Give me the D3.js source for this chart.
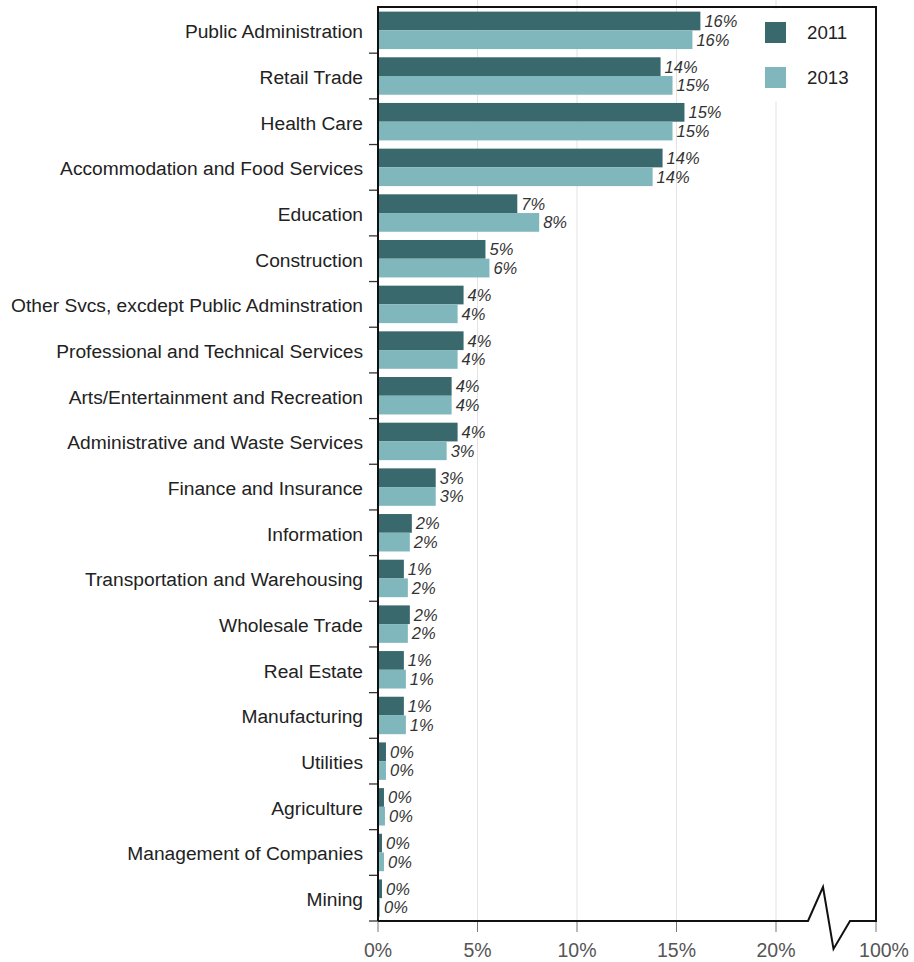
<!DOCTYPE html>
<html><head><meta charset="utf-8">
<script src="https://cdn.jsdelivr.net/npm/d3@7"></script>
<style>body{margin:0;background:#fff;}svg{display:block;font-family:"Liberation Sans",Arial,sans-serif;}</style>
</head><body><svg id="c" width="914" height="962"></svg>
<script>
const categories = ["Public Administration","Retail Trade","Health Care","Accommodation and Food Services","Education","Construction","Other Svcs, excdept Public Adminstration","Professional and Technical Services","Arts/Entertainment and Recreation","Administrative and Waste Services","Finance and Insurance","Information","Transportation and Warehousing","Wholesale Trade","Real Estate","Manufacturing","Utilities","Agriculture","Management of Companies","Mining"];
const values2011 = [16.2,14.2,15.4,14.3,7.0,5.4,4.3,4.3,3.7,4.0,2.9,1.7,1.3,1.6,1.3,1.3,0.4,0.3,0.2,0.2];
const values2013 = [15.8,14.8,14.8,13.8,8.1,5.6,4.0,4.0,3.7,3.45,2.9,1.6,1.5,1.5,1.4,1.4,0.4,0.35,0.3,0.1];
const seriesNames = ["2011","2013"];
const xTicks = [0,5,10,15,20];
const xTickLabels = ["0%","5%","10%","15%","20%"];
const breakLabel = "100%";

const colors = ["#39696D","#7FB7BD"];
const svg = d3.select("#c");
const L = 378, R = 876, T = 7.5, B = 921;
const x = d3.scaleLinear().domain([0,20]).range([L,776]);
const y = d3.scaleBand().domain(categories).range([T,B]).paddingInner(0.18).paddingOuter(0.09);
const sub = d3.scaleBand().domain(seriesNames).range([0,y.bandwidth()]);
const yb = d3.scaleBand().domain(categories).range([T,B]);

// gridlines
svg.append("g").selectAll("line").data(xTicks.slice(1)).join("line")
  .attr("x1",d=>x(d)).attr("x2",d=>x(d)).attr("y1",0).attr("y2",B)
  .attr("stroke","#e3e3e3").attr("stroke-width",1);

// bars
const data = [];
categories.forEach((c,i)=>{
  data.push({c, s:"2011", v:values2011[i], k:0});
  data.push({c, s:"2013", v:values2013[i], k:1});
});
svg.append("g").selectAll("rect").data(data).join("rect")
  .attr("x",L).attr("y",d=>y(d.c)+sub(d.s))
  .attr("width",d=>x(d.v)-L).attr("height",sub.bandwidth())
  .attr("fill",d=>colors[d.k]);

svg.append("g").selectAll("text").data(data).join("text")
  .attr("x",d=>x(d.v)+4).attr("y",d=>y(d.c)+sub(d.s)+sub.bandwidth()/2)
  .attr("dy","0.36em").attr("font-size",16.5).attr("font-style","italic").attr("fill","#333")
  .text(d=>Math.round(d.v)+"%");

// category labels
svg.append("g").selectAll("text").data(categories).join("text")
  .attr("x",363).attr("y",d=>yb(d)+yb.bandwidth()/2+1)
  .attr("dy","0.36em").attr("text-anchor","end").attr("font-size",19.2).attr("fill","#222")
  .text(d=>d);

// y ticks at boundaries
const bounds = categories.map(c=>yb(c)+yb.bandwidth()).slice(0,-1).concat([B]);
svg.append("g").selectAll("line").data(bounds).join("line")
  .attr("x1",369).attr("x2",L).attr("y1",d=>d).attr("y2",d=>d)
  .attr("stroke","#333").attr("stroke-width",1.3);

// legend background
svg.append("rect").attr("x",750).attr("y",9).attr("width",124).attr("height",92).attr("fill","#fff");
seriesNames.forEach((s,i)=>{
  svg.append("rect").attr("x",765).attr("y",22+i*45).attr("width",21).attr("height",21).attr("fill",colors[i]);
  svg.append("text").attr("x",807).attr("y",32.5+i*45).attr("dy","0.36em").attr("font-size",18.7).attr("fill","#222").text(s);
});

// x ticks
svg.append("g").selectAll("line").data(xTicks.concat([100])).join("line")
  .attr("x1",d=>d===100?R:x(d)).attr("x2",d=>d===100?R:x(d)).attr("y1",B).attr("y2",B+11).attr("stroke","#777").attr("stroke-width",1);

// frame
const frame = d3.path();
frame.moveTo(L,B); frame.lineTo(L,T-0.5); frame.lineTo(R,T-0.5); frame.lineTo(R,B);
frame.lineTo(850,B); frame.lineTo(833.5,949); frame.lineTo(823,887); frame.lineTo(808,B); frame.lineTo(L,B);
svg.append("path").attr("d",frame.toString()).attr("fill","none").attr("stroke","#111").attr("stroke-width",2).attr("stroke-linejoin","miter");

svg.append("g").selectAll("text").data(xTicks).join("text")
  .attr("x",d=>x(d)).attr("y",950).attr("dy","0.36em").attr("text-anchor","middle")
  .attr("font-size",19.5).attr("fill","#555").text((d,i)=>xTickLabels[i]);
svg.append("text").attr("x",R+8).attr("y",950).attr("dy","0.36em").attr("text-anchor","middle")
  .attr("font-size",19.5).attr("fill","#555").text(breakLabel);
</script></body></html>
